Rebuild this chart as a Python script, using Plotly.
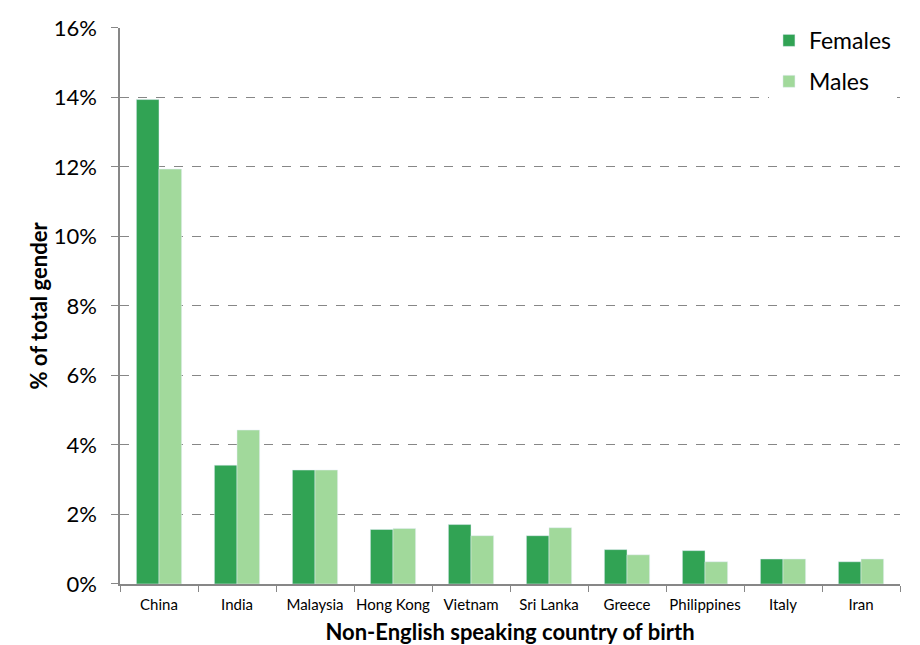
import plotly.graph_objects as go

# Data
countries = ["China", "India", "Malaysia", "Hong Kong", "Vietnam",
             "Sri Lanka", "Greece", "Philippines", "Italy", "Iran"]
females = [0.1394, 0.0342, 0.0328, 0.0157, 0.0171,
           0.0139, 0.0099, 0.0096, 0.0072, 0.0064]
males = [0.1194, 0.0443, 0.0328, 0.0160, 0.0139,
         0.0162, 0.0084, 0.0064, 0.0072, 0.0072]

font_family = "Lato, 'Open Sans', sans-serif"

fig = go.Figure()
fig.add_trace(go.Bar(x=countries, y=females, name="Females",
                     marker_color="#31a354", legendgroup="f"))
fig.add_trace(go.Bar(x=countries, y=males, name="Males",
                     marker_color="#a1d99b", legendgroup="m"))

# page body has an 8px margin, so the figure is a little smaller than the window.
# top margin is 0 and the y domain is shrunk instead, so the legend sits
# inside the paper area and does not push the margins around
fig.update_layout(
    width=912,
    height=637,
    barmode="group",
    bargap=0.42,
    bargroupgap=0,
    plot_bgcolor="white",
    paper_bgcolor="white",
    font=dict(family=font_family, color="black"),
    margin=dict(t=0, l=112, r=20, b=61),
    legend=dict(
        x=0.832, y=0.981, xanchor="left", yanchor="top",
        bgcolor="white", font=dict(size=23),
        tracegroupgap=8, itemwidth=30,
    ),
)

fig.update_xaxes(
    title=dict(text="<b>Non-English speaking country of birth</b>",
               font=dict(size=22), standoff=15),
    tickfont=dict(size=15), ticklabelstandoff=6, tickangle=0,
    automargin=False,
    showline=True, linecolor="#878787", linewidth=1.5,
    ticks="outside", tickson="boundaries", ticklen=6, tickcolor="#878787",
    showgrid=False,
)
fig.update_yaxes(
    title=dict(text="<b>% of total gender</b>", font=dict(size=22), standoff=0),
    domain=[0, 0.9653],
    range=[0, 0.16], dtick=0.02, tickformat=".0%",
    tickfont=dict(size=22), ticklabelstandoff=10,
    automargin=False,
    showline=True, linecolor="#878787", linewidth=1.5,
    ticks="outside", ticklen=7, tickcolor="#878787",
    showgrid=True, gridcolor="#878787", griddash="dash", gridwidth=1.2,
    zeroline=False,
)

fig.write_html("out.html")
